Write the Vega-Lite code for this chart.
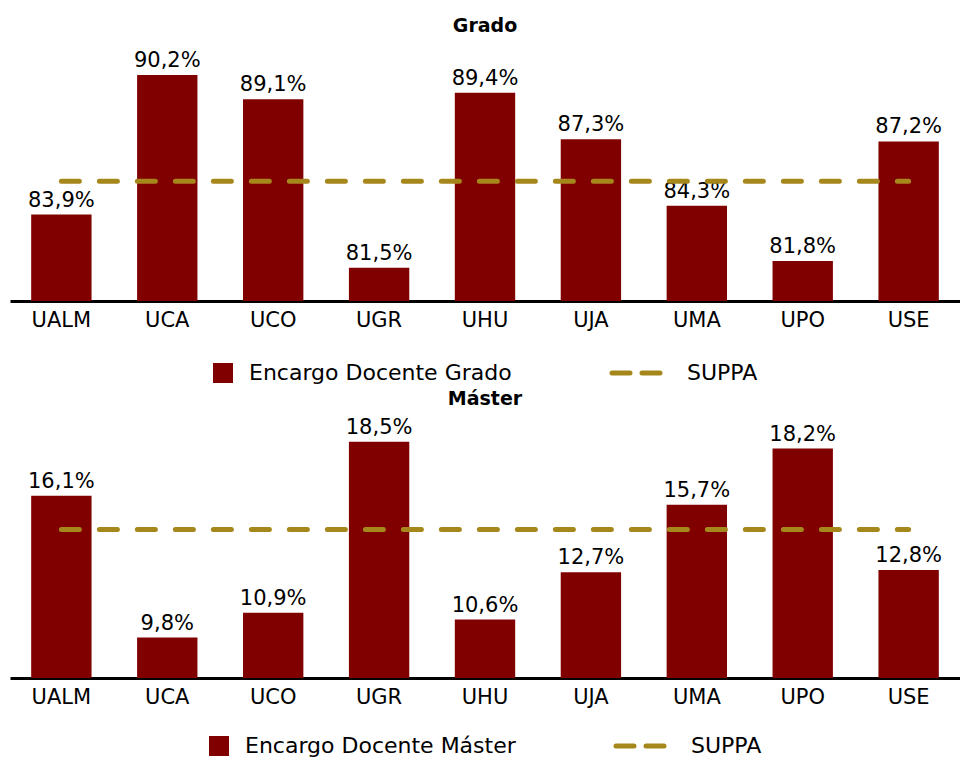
{
  "$schema": "https://vega.github.io/schema/vega-lite/v6.json",
  "padding": {"left": 10, "top": 17, "right": 0, "bottom": 0},
  "config": {
    "font": "DejaVu Sans",
    "view": {"stroke": null},
    "locale": {"number": {"decimal": ",", "thousands": ".", "grouping": [3], "currency": ["", " €"], "percent": "%"}},
    "concat": {"spacing": 6},
    "title": {"fontSize": 19, "fontWeight": "bold", "color": "#000000", "anchor": "middle", "offset": -1},
    "axisX": {"labelFontSize": 21, "labelColor": "#000000", "ticks": false, "domainColor": "#000000", "domainWidth": 3, "labelPadding": 8, "labelAngle": 0, "title": null},
    "legend": {"orient": "bottom", "direction": "horizontal", "labelFontSize": 22, "labelColor": "#000000", "labelLimit": 500, "columnPadding": 90, "symbolSize": 2304, "labelOffset": 15, "title": null, "offset": 32, "layout": {"bottom": {"anchor": "middle"}}}
  },
  "resolve": {"scale": {"color": "independent"}, "legend": {"color": "independent"}},
  "vconcat": [
    {
      "title": "Grado",
      "width": 950,
      "height": 266,
      "data": {"values": [
        {"u": "UALM", "v": 0.839, "serie": "Encargo Docente Grado", "suppa": 0.854, "serie2": "SUPPA"},
        {"u": "UCA", "v": 0.902, "serie": "Encargo Docente Grado", "suppa": 0.854, "serie2": "SUPPA"},
        {"u": "UCO", "v": 0.891, "serie": "Encargo Docente Grado", "suppa": 0.854, "serie2": "SUPPA"},
        {"u": "UGR", "v": 0.815, "serie": "Encargo Docente Grado", "suppa": 0.854, "serie2": "SUPPA"},
        {"u": "UHU", "v": 0.894, "serie": "Encargo Docente Grado", "suppa": 0.854, "serie2": "SUPPA"},
        {"u": "UJA", "v": 0.873, "serie": "Encargo Docente Grado", "suppa": 0.854, "serie2": "SUPPA"},
        {"u": "UMA", "v": 0.843, "serie": "Encargo Docente Grado", "suppa": 0.854, "serie2": "SUPPA"},
        {"u": "UPO", "v": 0.818, "serie": "Encargo Docente Grado", "suppa": 0.854, "serie2": "SUPPA"},
        {"u": "USE", "v": 0.872, "serie": "Encargo Docente Grado", "suppa": 0.854, "serie2": "SUPPA"}
      ]},
      "encoding": {
        "x": {"field": "u", "type": "nominal", "sort": null, "scale": {"paddingInner": 0.43, "paddingOuter": 0.2}}
      },
      "layer": [
        {
          "mark": {"type": "bar", "clip": true},
          "encoding": {
            "y": {"field": "v", "type": "quantitative", "scale": {"domain": [0.8, 0.92], "zero": false, "nice": false}, "axis": null},
            "color": {"field": "serie", "type": "nominal", "scale": {"domain": ["Encargo Docente Grado", "SUPPA"], "range": ["#800000", "#A6871C"]},
              "legend": {"encode": {
                "symbols": {"update": {
                  "shape": {"signal": "datum.value === 'SUPPA' ? 'stroke' : 'square'"},
                  "size": {"signal": "datum.value === 'SUPPA' ? 2304 : 400"},
                  "strokeWidth": {"signal": "datum.value === 'SUPPA' ? 5 : 0"},
                  "strokeDash": {"signal": "datum.value === 'SUPPA' ? [18, 12] : [1, 0]"},
                  "strokeCap": {"value": "round"},
                  "stroke": {"signal": "datum.value === 'SUPPA' ? '#A6871C' : null"},
                  "fill": {"signal": "datum.value === 'SUPPA' ? null : '#800000'"},
                  "opacity": {"value": 1}
                }},
                "labels": {"update": {"dx": {"signal": "datum.value === 'SUPPA' ? 25 : 0"}}}
              }}
            }
          }
        },
        {
          "mark": {"type": "text", "dy": -8, "fontSize": 21, "color": "#000000", "baseline": "alphabetic"},
          "encoding": {
            "y": {"field": "v", "type": "quantitative"},
            "text": {"field": "v", "type": "quantitative", "format": ".1%"}
          }
        },
        {
          "mark": {"type": "line", "strokeWidth": 5, "strokeDash": [18, 20], "strokeCap": "round"},
          "encoding": {
            "y": {"field": "suppa", "type": "quantitative"},
            "color": {"field": "serie2", "type": "nominal"}
          }
        }
      ]
    },
    {
      "title": "Máster",
      "width": 950,
      "height": 270,
      "data": {"values": [
        {"u": "UALM", "v": 0.161, "serie": "Encargo Docente Máster", "suppa": 0.146, "serie2": "SUPPA"},
        {"u": "UCA", "v": 0.098, "serie": "Encargo Docente Máster", "suppa": 0.146, "serie2": "SUPPA"},
        {"u": "UCO", "v": 0.109, "serie": "Encargo Docente Máster", "suppa": 0.146, "serie2": "SUPPA"},
        {"u": "UGR", "v": 0.185, "serie": "Encargo Docente Máster", "suppa": 0.146, "serie2": "SUPPA"},
        {"u": "UHU", "v": 0.106, "serie": "Encargo Docente Máster", "suppa": 0.146, "serie2": "SUPPA"},
        {"u": "UJA", "v": 0.127, "serie": "Encargo Docente Máster", "suppa": 0.146, "serie2": "SUPPA"},
        {"u": "UMA", "v": 0.157, "serie": "Encargo Docente Máster", "suppa": 0.146, "serie2": "SUPPA"},
        {"u": "UPO", "v": 0.182, "serie": "Encargo Docente Máster", "suppa": 0.146, "serie2": "SUPPA"},
        {"u": "USE", "v": 0.128, "serie": "Encargo Docente Máster", "suppa": 0.146, "serie2": "SUPPA"}
      ]},
      "encoding": {
        "x": {"field": "u", "type": "nominal", "sort": null, "scale": {"paddingInner": 0.43, "paddingOuter": 0.2}}
      },
      "layer": [
        {
          "mark": {"type": "bar", "clip": true},
          "encoding": {
            "y": {"field": "v", "type": "quantitative", "scale": {"domain": [0.08, 0.2], "zero": false, "nice": false}, "axis": null},
            "color": {"field": "serie", "type": "nominal", "scale": {"domain": ["Encargo Docente Máster", "SUPPA"], "range": ["#800000", "#A6871C"]},
              "legend": {"offset": 28, "encode": {
                "symbols": {"update": {
                  "shape": {"signal": "datum.value === 'SUPPA' ? 'stroke' : 'square'"},
                  "size": {"signal": "datum.value === 'SUPPA' ? 2304 : 400"},
                  "strokeWidth": {"signal": "datum.value === 'SUPPA' ? 5 : 0"},
                  "strokeDash": {"signal": "datum.value === 'SUPPA' ? [18, 12] : [1, 0]"},
                  "strokeCap": {"value": "round"},
                  "stroke": {"signal": "datum.value === 'SUPPA' ? '#A6871C' : null"},
                  "fill": {"signal": "datum.value === 'SUPPA' ? null : '#800000'"},
                  "opacity": {"value": 1}
                }},
                "labels": {"update": {"dx": {"signal": "datum.value === 'SUPPA' ? 25 : 0"}}}
              }}
            }
          }
        },
        {
          "mark": {"type": "text", "dy": -8, "fontSize": 21, "color": "#000000", "baseline": "alphabetic"},
          "encoding": {
            "y": {"field": "v", "type": "quantitative"},
            "text": {"field": "v", "type": "quantitative", "format": ".1%"}
          }
        },
        {
          "mark": {"type": "line", "strokeWidth": 5, "strokeDash": [18, 20], "strokeCap": "round"},
          "encoding": {
            "y": {"field": "suppa", "type": "quantitative"},
            "color": {"field": "serie2", "type": "nominal"}
          }
        }
      ]
    }
  ]
}
